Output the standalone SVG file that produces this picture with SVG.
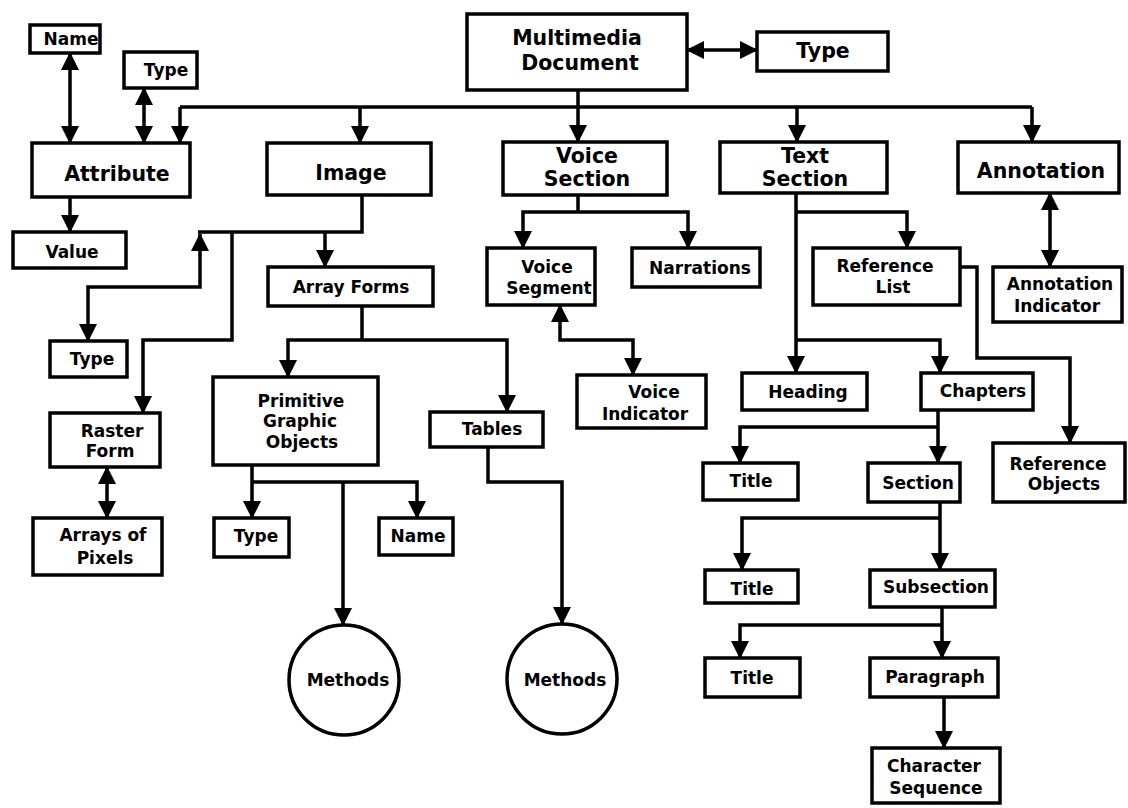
<svg xmlns="http://www.w3.org/2000/svg" width="1128" height="808" viewBox="0 0 1128 808">
<style>
.b{fill:#fff;stroke:#000;stroke-width:3.5}
.t{font-family:'DejaVu Sans','Liberation Sans',sans-serif;font-weight:bold;fill:#000;text-anchor:middle;font-size:17px}
.L{font-size:20.5px}
.c path{fill:none;stroke:#000;stroke-width:3.5}
.a{marker-end:url(#ah)}
.d{marker-start:url(#ah);marker-end:url(#ah)}
</style>
<defs>
<marker id="ah" markerUnits="userSpaceOnUse" markerWidth="18" markerHeight="18" viewBox="0 0 18 18" refX="17" refY="9" orient="auto-start-reverse"><path d="M0,0 L18,9 L0,18 z" fill="#000"/></marker>
</defs>
<rect width="1128" height="808" fill="#fff"/>
<g class="c" id="connectors">
<path class="d" d="M687,50 H757"/>
<path class="a" d="M578,90 V142"/>
<path d="M180,107 H1032"/>
<path class="a" d="M180,107 V143"/>
<path class="a" d="M360,107 V143"/>
<path class="a" d="M797,107 V142"/>
<path class="a" d="M1032,107 V142"/>
<path class="d" d="M70,53 V143"/>
<path class="d" d="M144,88 V143"/>
<path class="a" d="M70,197 V232"/>
<path d="M362,195 V232 H198"/>
<path class="a" d="M325,232 V267"/>
<path class="d" d="M200,234 V287 H88 V341"/>
<path class="a" d="M232,232 V340 H143 V413"/>
<path class="d" d="M107,467 V518"/>
<path d="M362,306 V340"/>
<path class="a" d="M362,340 H288 V377"/>
<path class="a" d="M362,340 H507 V412"/>
<path class="a" d="M252,465 V518"/>
<path class="a" d="M252,482 H417 V518"/>
<path class="a" d="M343,482 V625"/>
<path class="a" d="M488,447 V482 H562 V624"/>
<path d="M578,195 V212"/>
<path class="a" d="M578,212 H523 V248"/>
<path class="a" d="M578,212 H688 V248"/>
<path class="d" d="M560,305 V340 H633 V375"/>
<path class="a" d="M796,193 V373"/>
<path class="a" d="M796,212 H907 V248"/>
<path class="a" d="M796,340 H940 V373"/>
<path class="a" d="M960,267 H977 V358 H1070 V443"/>
<path class="d" d="M1050,193 V267"/>
<path class="a" d="M938,410 V463"/>
<path class="a" d="M938,427 H740 V463"/>
<path class="a" d="M940,502 V570"/>
<path class="a" d="M940,518 H742 V570"/>
<path class="a" d="M942,607 V658"/>
<path class="a" d="M942,625 H740 V658"/>
<path class="a" d="M944,697 V748"/>
</g>
<g id="multimedia"><rect class="b" x="467" y="14" width="220" height="76"/><text class="t L" x="577" y="45">Multimedia</text><text class="t L" x="580" y="70">Document</text></g>
<g id="type-top"><rect class="b" x="757" y="32" width="131" height="39"/><text class="t L" x="823" y="58">Type</text></g>
<g id="name-attr"><rect class="b" x="30" y="25" width="70" height="28"/><text class="t" x="71" y="45">Name</text></g>
<g id="type-attr"><rect class="b" x="124" y="52" width="73" height="36"/><text class="t" x="166" y="76">Type</text></g>
<g id="attribute"><rect class="b" x="32" y="143" width="158" height="54"/><text class="t L" x="117" y="181">Attribute</text></g>
<g id="value"><rect class="b" x="13" y="232" width="113" height="36"/><text class="t" x="72" y="258">Value</text></g>
<g id="image"><rect class="b" x="267" y="143" width="164" height="52"/><text class="t L" x="351" y="180">Image</text></g>
<g id="voice-section"><rect class="b" x="503" y="142" width="164" height="53"/><text class="t L" x="587" y="163">Voice</text><text class="t L" x="587" y="186">Section</text></g>
<g id="text-section"><rect class="b" x="720" y="142" width="167" height="51"/><text class="t L" x="805" y="163">Text</text><text class="t L" x="805" y="186">Section</text></g>
<g id="annotation"><rect class="b" x="958" y="142" width="161" height="51"/><text class="t L" x="1041" y="178">Annotation</text></g>
<g id="array-forms"><rect class="b" x="268" y="267" width="165" height="39"/><text class="t" x="351" y="293">Array Forms</text></g>
<g id="type-image"><rect class="b" x="50" y="341" width="77" height="36"/><text class="t" x="92" y="365">Type</text></g>
<g id="raster-form"><rect class="b" x="50" y="413" width="110" height="54"/><text class="t" x="112" y="437">Raster</text><text class="t" x="110" y="457">Form</text></g>
<g id="arrays-pixels"><rect class="b" x="33" y="518" width="129" height="57"/><text class="t" x="103" y="541">Arrays of</text><text class="t" x="105" y="564">Pixels</text></g>
<g id="pgo"><rect class="b" x="213" y="377" width="165" height="88"/><text class="t" x="301" y="407">Primitive</text><text class="t" x="300" y="427">Graphic</text><text class="t" x="302" y="448">Objects</text></g>
<g id="tables"><rect class="b" x="430" y="412" width="113" height="35"/><text class="t" x="492" y="435">Tables</text></g>
<g id="type-pgo"><rect class="b" x="214" y="518" width="75" height="39"/><text class="t" x="256" y="542">Type</text></g>
<g id="name-pgo"><rect class="b" x="379" y="518" width="74" height="37"/><text class="t" x="418" y="542">Name</text></g>
<g id="methods-1"><circle class="b" cx="344" cy="680" r="55"/><text class="t" x="348" y="686">Methods</text></g>
<g id="methods-2"><circle class="b" cx="562" cy="679" r="55"/><text class="t" x="565" y="686">Methods</text></g>
<g id="voice-segment"><rect class="b" x="487" y="248" width="108" height="57"/><text class="t" x="547" y="273">Voice</text><text class="t" x="549" y="294">Segment</text></g>
<g id="narrations"><rect class="b" x="632" y="248" width="128" height="39"/><text class="t" x="700" y="274">Narrations</text></g>
<g id="voice-indicator"><rect class="b" x="577" y="375" width="129" height="53"/><text class="t" x="654" y="398">Voice</text><text class="t" x="645" y="420">Indicator</text></g>
<g id="reference-list"><rect class="b" x="813" y="248" width="147" height="57"/><text class="t" x="885" y="272">Reference</text><text class="t" x="893" y="293">List</text></g>
<g id="annotation-indicator"><rect class="b" x="993" y="267" width="129" height="55"/><text class="t" x="1060" y="290">Annotation</text><text class="t" x="1057" y="312">Indicator</text></g>
<g id="heading"><rect class="b" x="742" y="373" width="125" height="37"/><text class="t" x="808" y="398">Heading</text></g>
<g id="chapters"><rect class="b" x="921" y="373" width="112" height="37"/><text class="t" x="983" y="397">Chapters</text></g>
<g id="reference-objects"><rect class="b" x="993" y="443" width="132" height="59"/><text class="t" x="1058" y="470">Reference</text><text class="t" x="1064" y="490">Objects</text></g>
<g id="title-1"><rect class="b" x="703" y="463" width="95" height="37"/><text class="t" x="751" y="487">Title</text></g>
<g id="section"><rect class="b" x="868" y="463" width="92" height="39"/><text class="t" x="918" y="489">Section</text></g>
<g id="title-2"><rect class="b" x="705" y="570" width="93" height="33"/><text class="t" x="752" y="595">Title</text></g>
<g id="subsection"><rect class="b" x="870" y="570" width="125" height="37"/><text class="t" x="936" y="593">Subsection</text></g>
<g id="title-3"><rect class="b" x="705" y="658" width="95" height="39"/><text class="t" x="752" y="684">Title</text></g>
<g id="paragraph"><rect class="b" x="870" y="658" width="128" height="39"/><text class="t" x="935" y="683">Paragraph</text></g>
<g id="character-sequence"><rect class="b" x="872" y="748" width="128" height="55"/><text class="t" x="934" y="772">Character</text><text class="t" x="936" y="794">Sequence</text></g>
</svg>
